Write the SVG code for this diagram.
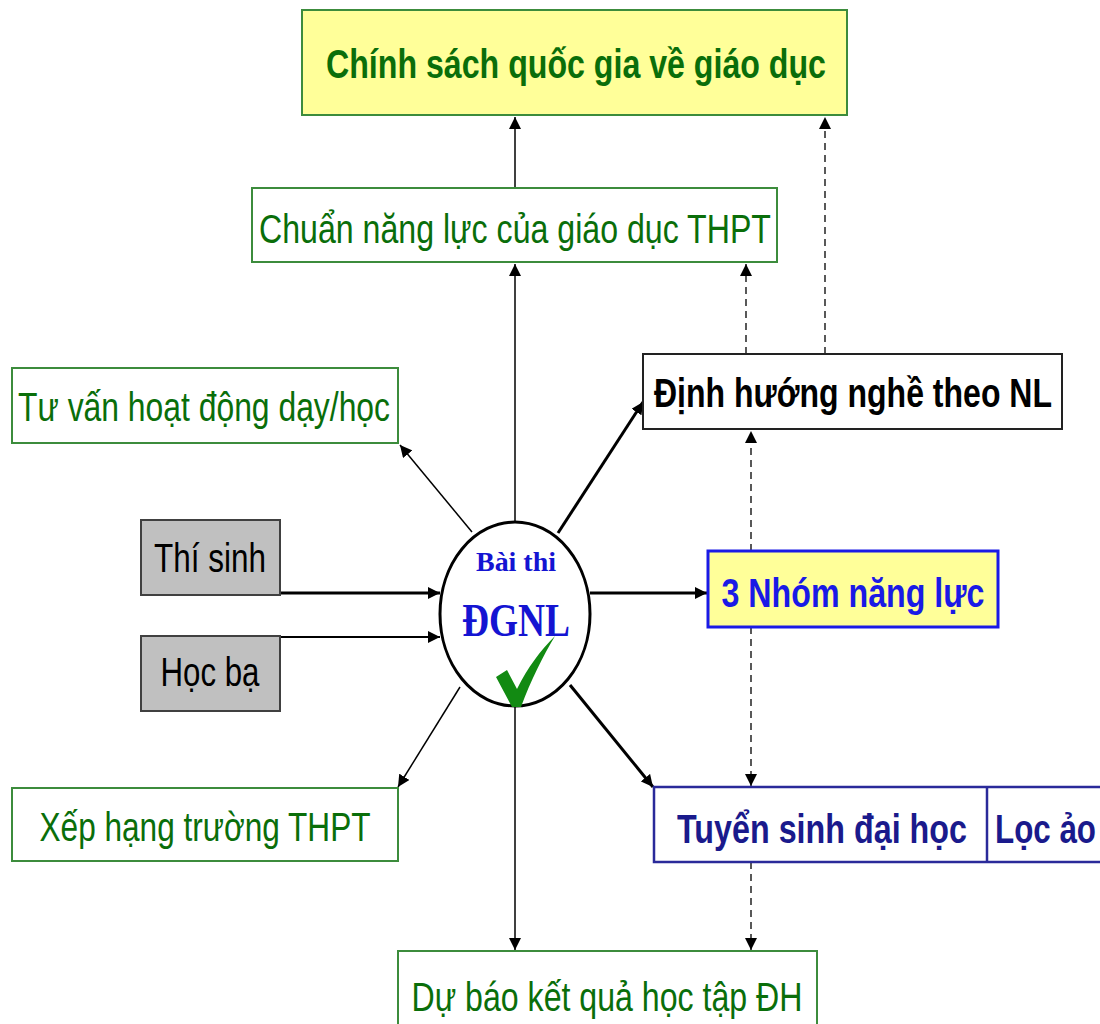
<svg xmlns="http://www.w3.org/2000/svg" width="1100" height="1024" viewBox="0 0 1100 1024">
<style>
.box{stroke-width:2}
.g{fill:#fff;stroke:#3c8c3c}
.t{font-family:"Liberation Sans",Arial,sans-serif;font-size:41px}
.green{fill:#0a6e0a}
.c{stroke:#000;fill:none}
.dash{stroke-dasharray:7,5;stroke-width:1.3}
</style>
<defs>
<marker id="ahb" viewBox="0 0 10 10" refX="10" refY="5" markerWidth="12" markerHeight="12" markerUnits="userSpaceOnUse" orient="auto"><path d="M0,0L10,5L0,10z" fill="#000"/></marker>
</defs>
<rect width="1100" height="1024" fill="#fff"/>
<g id="connectors">
<line class="c" x1="515" y1="522" x2="515" y2="264" stroke-width="1.5" marker-end="url(#ahb)"/>
<line class="c" x1="515" y1="188" x2="515" y2="117" stroke-width="1.5" marker-end="url(#ahb)"/>
<line class="c dash" x1="825" y1="354" x2="825" y2="117" marker-end="url(#ahb)"/>
<line class="c dash" x1="746" y1="354" x2="746" y2="264" marker-end="url(#ahb)"/>
<line class="c dash" x1="751" y1="551" x2="751" y2="431" marker-end="url(#ahb)"/>
<line class="c dash" x1="751" y1="627" x2="751" y2="786" marker-end="url(#ahb)"/>
<line class="c dash" x1="751" y1="862" x2="751" y2="950" marker-end="url(#ahb)"/>
<line class="c" x1="515" y1="707" x2="515" y2="950" stroke-width="1.5" marker-end="url(#ahb)"/>
<line class="c" x1="558" y1="533" x2="643" y2="402" stroke-width="3" marker-end="url(#ahb)"/>
<line class="c" x1="590" y1="593" x2="707" y2="593" stroke-width="3" marker-end="url(#ahb)"/>
<line class="c" x1="570" y1="685" x2="653" y2="787" stroke-width="3" marker-end="url(#ahb)"/>
<line class="c" x1="472" y1="532" x2="400" y2="445" stroke-width="1.5" marker-end="url(#ahb)"/>
<line class="c" x1="460" y1="687" x2="398" y2="787" stroke-width="1.5" marker-end="url(#ahb)"/>
<line class="c" x1="280" y1="593" x2="440" y2="593" stroke-width="3" marker-end="url(#ahb)"/>
<line class="c" x1="280" y1="637" x2="440" y2="637" stroke-width="2" marker-end="url(#ahb)"/>
</g>
<g id="chinh-sach">
<rect class="box" x="302" y="10" width="545" height="105" fill="#ffff99" stroke="#3c8c3c"/>
<text class="t green" x="576" y="78" text-anchor="middle" font-weight="bold" font-size="44" textLength="500" lengthAdjust="spacingAndGlyphs">Chính sách quốc gia về giáo dục</text>
</g>
<g id="chuan">
<rect class="box g" x="252" y="188" width="525" height="74"/>
<text class="t green" x="515" y="243" text-anchor="middle" textLength="512" lengthAdjust="spacingAndGlyphs">Chuẩn năng lực của giáo dục THPT</text>
</g>
<g id="tu-van">
<rect class="box g" x="12" y="368" width="386" height="75"/>
<text class="t green" x="204" y="421" text-anchor="middle" textLength="372" lengthAdjust="spacingAndGlyphs">Tư vấn hoạt động dạy/học</text>
</g>
<g id="thi-sinh">
<rect class="box" x="141" y="520" width="139" height="75" fill="#c0c0c0" stroke="#404040"/>
<text class="t" x="210" y="572" text-anchor="middle" fill="#000" textLength="112" lengthAdjust="spacingAndGlyphs">Thí sinh</text>
</g>
<g id="hoc-ba">
<rect class="box" x="141" y="636" width="139" height="75" fill="#c0c0c0" stroke="#404040"/>
<text class="t" x="210" y="686" text-anchor="middle" fill="#000" textLength="99" lengthAdjust="spacingAndGlyphs">Học bạ</text>
</g>
<g id="xep-hang">
<rect class="box g" x="12" y="788" width="386" height="73"/>
<text class="t green" x="205" y="841" text-anchor="middle" textLength="331" lengthAdjust="spacingAndGlyphs">Xếp hạng trường THPT</text>
</g>
<g id="bai-thi">
<ellipse cx="515" cy="614" rx="75" ry="92" fill="#fff" stroke="#000" stroke-width="3"/>
<text x="516" y="571" text-anchor="middle" font-family="'Liberation Serif',serif" font-weight="bold" font-size="28" fill="#1414d2" textLength="80" lengthAdjust="spacingAndGlyphs">Bài thi</text>
<text x="516" y="636" text-anchor="middle" font-family="'Liberation Serif',serif" font-weight="bold" font-size="46" fill="#1414d2" textLength="108" lengthAdjust="spacingAndGlyphs">ĐGNL</text>
<path d="M496,677 L507,670 L517,689 C528,667 540,651 555,636 C543,656 531,680 521,707 L512,707 Z" fill="#128a12"/>
</g>
<g id="dinh-huong">
<rect class="box" x="643" y="354" width="419" height="75" fill="#fff" stroke="#222"/>
<text class="t" x="853" y="407" text-anchor="middle" font-weight="bold" fill="#000" textLength="398" lengthAdjust="spacingAndGlyphs">Định hướng nghề theo NL</text>
</g>
<g id="nhom-nang-luc">
<rect x="708" y="551" width="290" height="76" fill="#ffff99" stroke="#1a1ae6" stroke-width="3"/>
<text class="t" x="853" y="607" text-anchor="middle" font-weight="bold" fill="#1a1ae6" textLength="263" lengthAdjust="spacingAndGlyphs">3 Nhóm năng lực</text>
</g>
<g id="tuyen-sinh">
<rect x="654" y="787" width="460" height="75" fill="#fff" stroke="#2a2a9a" stroke-width="2.5"/>
<line x1="987" y1="787" x2="987" y2="862" stroke="#2a2a9a" stroke-width="2.5"/>
<text class="t" x="822" y="843" text-anchor="middle" font-weight="bold" fill="#1a1a8c" textLength="290" lengthAdjust="spacingAndGlyphs">Tuyển sinh đại học</text>
<text class="t" x="995" y="843" font-weight="bold" fill="#1a1a8c" textLength="101" lengthAdjust="spacingAndGlyphs">Lọc ảo</text>
</g>
<g id="du-bao">
<rect class="box g" x="398" y="951" width="419" height="80"/>
<text class="t green" x="607" y="1011" text-anchor="middle" textLength="391" lengthAdjust="spacingAndGlyphs">Dự báo kết quả học tập ĐH</text>
</g>
</svg>
